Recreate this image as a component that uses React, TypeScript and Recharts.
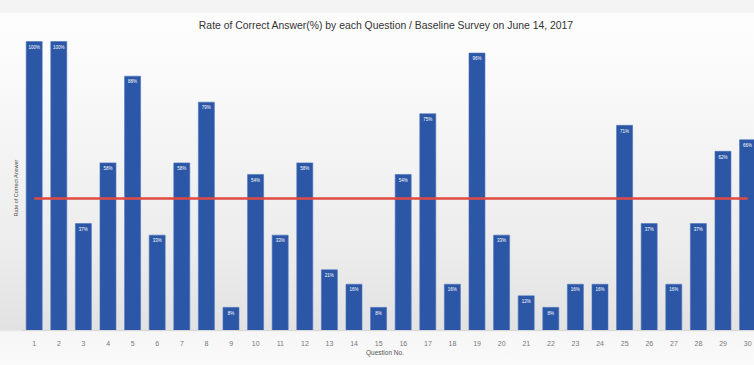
import React from "react";
import { ComposedChart, Bar, Line, XAxis, YAxis, LabelList } from "recharts";

const questions: string[] = [
  "1", "2", "3", "4", "5", "6", "7", "8", "9", "10",
  "11", "12", "13", "14", "15", "16", "17", "18", "19", "20",
  "21", "22", "23", "24", "25", "26", "27", "28", "29", "30",
];

const correctRate: number[] = [
  100, 100, 37, 58, 88, 33, 58, 79, 8, 54,
  33, 58, 21, 16, 8, 54, 75, 16, 96, 33,
  12, 8, 16, 16, 71, 37, 16, 37, 62, 66,
];

const averageRate: number = 45.7;

const data = questions.map((q, i) => ({
  q,
  rate: correctRate[i],
  avg: averageRate,
}));

export default function App() {
  return (
    <div
      style={{
        position: "absolute",
        left: 0,
        top: 0,
        width: 754,
        height: 365,
        overflow: "hidden",
        background:
          "linear-gradient(to bottom, #f4f4f4 0px, #f4f4f4 12px, #fdfdfd 14px, #fbfbfb 60px, #ececec 250px, #e2e2e2 330px, #f6f6f6 332px, #fafafa 365px)",
        fontFamily: "'Liberation Sans', Arial, sans-serif",
      }}
    >
      <div
        style={{
          position: "absolute",
          left: 0,
          width: 772,
          top: 20,
          textAlign: "center",
          fontSize: 10.4,
          color: "#333",
          whiteSpace: "nowrap",
        }}
      >
        Rate of Correct Answer(%) by each Question / Baseline Survey on June 14, 2017
      </div>
      <div
        style={{
          position: "absolute",
          left: 16,
          top: 188,
          fontSize: 5.5,
          color: "#555",
          transform: "translate(-50%, -50%) rotate(-90deg)",
          whiteSpace: "nowrap",
        }}
      >
        Rate of Correct Answer
      </div>
      <div
        style={{
          position: "absolute",
          left: 0,
          width: 770,
          top: 349,
          textAlign: "center",
          fontSize: 6.5,
          color: "#555",
        }}
      >
        Question No.
      </div>
      <div style={{ position: "absolute", left: 0, top: 0 }}>
        <ComposedChart
          width={770}
          height={365}
          data={data}
          margin={{ top: 41.5, right: 10, left: 22, bottom: 14.5 }}
          barCategoryGap="17%"
        >
          <XAxis
            dataKey="q"
            height={20}
            tickLine={false}
            axisLine={{ stroke: "#d8d8d8" }}
            tick={{ fontSize: 7, fill: "#777" }}
            tickMargin={5}
            interval={0}
          />
          <YAxis hide domain={[0, 100]} />
          <Bar dataKey="rate" fill="#2c57a7" stroke="#4a72bb" strokeWidth={0.6} isAnimationActive={false}>
            <LabelList
              dataKey="rate"
              position="insideTop"
              offset={4}
              formatter={(v: any) => `${v}%`}
              style={{ fontSize: 4.5, fill: "#ffffff" }}
            />
          </Bar>
          <Line
            dataKey="avg"
            stroke="#e04a42"
            strokeWidth={2.4}
            dot={false}
            activeDot={false}
            isAnimationActive={false}
          />
        </ComposedChart>
      </div>
    </div>
  );
}
